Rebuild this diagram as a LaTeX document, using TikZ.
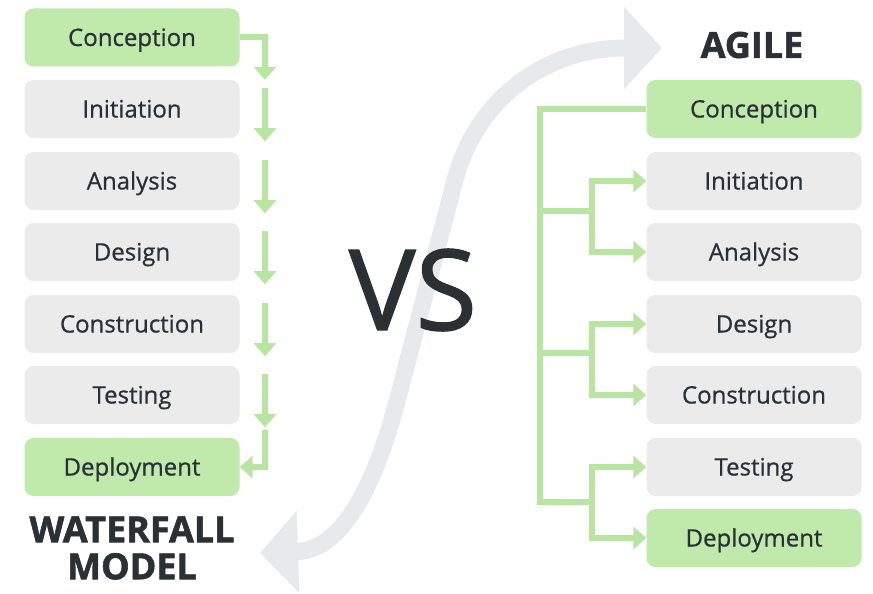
\documentclass[tikz,border=0pt]{standalone}
\usepackage{fontspec}
\setmainfont{Open Sans}
\newfontfamily\stagefont{Open Sans}[FakeBold=0.7]
\newfontfamily\vsfont{Open Sans}[FakeBold=1.2]
\newfontfamily\titlefont{Open Sans}[FakeBold=1.5]
\usetikzlibrary{arrows.meta}
\definecolor{boxgreen}{HTML}{C0EAAB}
\definecolor{linegreen}{HTML}{B8E6A2}
\definecolor{boxgray}{HTML}{EBEBEB}
\definecolor{bandgray}{HTML}{E7E9EB}
\definecolor{ink}{HTML}{2B3035}
\begin{document}
\begin{tikzpicture}[x=1pt,y=-1pt,
  stage/.style={rounded corners=9pt, fill=boxgray, minimum width=215pt, minimum height=58pt,
    text=ink, font=\stagefont\fontsize{24}{28}\selectfont, text height=17pt, text depth=0pt, inner sep=0pt},
  keystage/.style={stage, fill=boxgreen},
  flow/.style={draw=linegreen, line width=6pt, line join=miter},
  flowarrow/.style={flow, -{Triangle[width=22pt,length=13pt]}},
  title/.style={font=\titlefont\bfseries\fontsize{36}{37}\selectfont, text=ink, align=center},
  band/.style={draw=bandgray, line width=17pt,
    {Triangle[width=80pt,length=38pt]}-{Triangle[width=80pt,length=38pt]}}
]
\fill[white] (0,0) rectangle (873,594);
\useasboundingbox (0,0) rectangle (873,594);

% the S-shaped exchange arrow behind everything
\draw[band] (260,553) .. controls (355,550) and (386,445) .. (400,390)
  -- (455,180) .. controls (475,104) and (540,48) .. (662,48);

% waterfall stages
\node[keystage] (w1) at (132,37.5) {Conception};
\node[stage]    (w2) at (132,109) {Initiation};
\node[stage]    (w3) at (132,181) {Analysis};
\node[stage]    (w4) at (132,252) {Design};
\node[stage]    (w5) at (132,324) {Construction};
\node[stage]    (w6) at (132,395) {Testing};
\node[keystage] (w7) at (132,467) {Deployment};

% agile stages
\node[keystage] (a1) at (754,109) {Conception};
\node[stage]    (a2) at (754,181) {Initiation};
\node[stage]    (a3) at (754,252) {Analysis};
\node[stage]    (a4) at (754,324) {Design};
\node[stage]    (a5) at (754,395) {Construction};
\node[stage]    (a6) at (754,467) {Testing};
\node[keystage] (a7) at (754,538) {Deployment};

% titles
\node[title] (agile) at (752,45) {AGILE};
\node[title] (wf) at (132,548) {WATERFALL\\MODEL};
\node[font=\vsfont\fontsize{112}{112}\selectfont, text=ink] (vs) at (413,290) {VS};

% guide columns and junction heights
\coordinate (wx) at (265,0);
\coordinate (tk) at (540,0);
\coordinate (br) at (592,0);
\coordinate (j1) at (0,211);
\coordinate (j2) at (0,353);
\coordinate (j3) at (0,502);

% waterfall cascade
\draw[flowarrow] (w1.east) -| (wx |- w2.north);
\foreach \n in {2,...,6}
  \draw[flowarrow] ([yshift=-8pt]w\n.north -| wx) -- ([yshift=-3pt]w\n.south -| wx);
\draw[flowarrow] ([yshift=-6pt]w6.south -| wx) |- (w7.east);

% agile tree
\draw[flow] (a1.west) -| (tk |- j3) -- (br |- j3);
\draw[flow] (tk |- j1) -- (br |- j1);
\draw[flow] (tk |- j2) -- (br |- j2);
\draw[flowarrow] (br |- j1) |- (a2.west);
\draw[flowarrow] (br |- j1) |- (a3.west);
\draw[flowarrow] (br |- j2) |- (a4.west);
\draw[flowarrow] (br |- j2) |- (a5.west);
\draw[flowarrow] (br |- j3) |- (a6.west);
\draw[flowarrow] (br |- j3) |- (a7.west);
\end{tikzpicture}
\end{document}
